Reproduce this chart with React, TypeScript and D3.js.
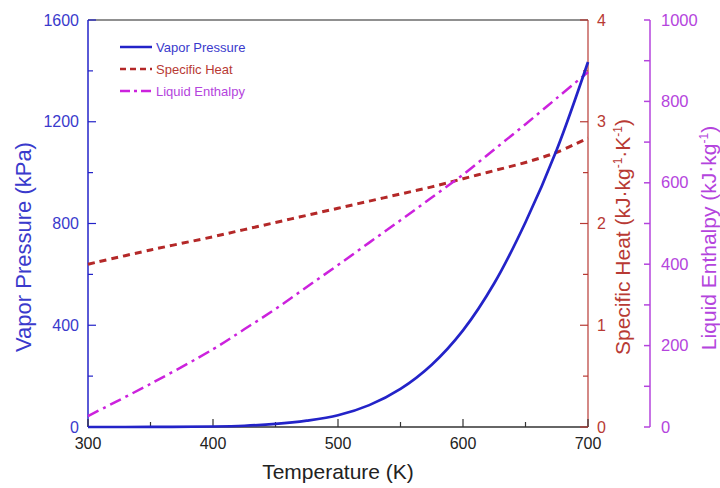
import React from "react";
import * as d3 from "d3";

const temps = [300, 350, 400, 425, 450, 475, 500, 525, 550, 575, 600, 625, 650, 675, 700];
const vaporPressure = [0, 0.3, 2, 5, 12, 25, 46, 86, 150, 245, 380, 565, 805, 1090, 1435];
const specificHeat = [1.6, 1.74, 1.87, 1.94, 2.01, 2.08, 2.15, 2.22, 2.29, 2.36, 2.44, 2.52, 2.6, 2.7, 2.84];
const liquidEnthalpy = [27, 106, 191, 240, 290, 344, 398, 453, 508, 564, 620, 682, 744, 808, 872];

const xTicks = [300, 400, 500, 600, 700];
const pTicks = [0, 400, 800, 1200, 1600];
const cTicks = [0, 1, 2, 3, 4];
const hTicks = [0, 200, 400, 600, 800, 1000];

const BLUE = "#2323c8";
const BLUE_TXT = "#3a3acc";
const RED = "#b42828";
const RED_TXT = "#b83a34";
const MAG = "#cc22dd";
const MAG_TXT = "#b444dd";
const FONT = "'Liberation Sans', Arial, sans-serif";

export default function App() {
  const L = 88, R = 588, T = 20, B = 427, PX = 650;
  const x = d3.scaleLinear().domain([300, 700]).range([L, R]);
  const yP = d3.scaleLinear().domain([0, 1600]).range([B, T]);
  const yC = d3.scaleLinear().domain([0, 4]).range([B, T]);
  const yH = d3.scaleLinear().domain([0, 1000]).range([B, T]);

  const mk = (vals: number[], y: d3.ScaleLinear<number, number>) =>
    d3.line<number>().x((_, i) => x(temps[i])).y((v) => y(v)).curve(d3.curveCatmullRom.alpha(0.5))(vals) || "";

  const xMinor = d3.range(350, 700, 100);
  const pMinor = d3.range(200, 1600, 400);
  const cMinor = d3.range(0.5, 4, 1);
  const hMinor = d3.range(100, 1000, 200);

  const legend = [
    { label: "Vapor Pressure", color: BLUE, txt: BLUE_TXT, dash: "none", w: 2.5 },
    { label: "Specific Heat", color: RED, txt: RED_TXT, dash: "6,4", w: 2.5 },
    { label: "Liquid Enthalpy", color: MAG, txt: MAG_TXT, dash: "10,4,3,4", w: 2.5 },
  ];

  return (
    <svg width={720} height={488} style={{ position: "absolute", left: 0, top: 0, background: "#fff" }} fontFamily={FONT}>
      {/* frame */}
      <line x1={L} x2={R} y1={T} y2={T} stroke="#222" strokeWidth={1.2} />
      <line x1={L} x2={R} y1={B} y2={B} stroke="#333" strokeWidth={1.5} />
      <line x1={L} x2={L} y1={T} y2={B} stroke={BLUE} strokeWidth={1.5} />
      <line x1={R} x2={R} y1={T} y2={B} stroke={RED_TXT} strokeWidth={1.2} />
      <line x1={PX} x2={PX} y1={T} y2={B} stroke={MAG_TXT} strokeWidth={1.5} />

      {/* x ticks */}
      {xTicks.map((t) => (
        <g key={"x" + t}>
          <line x1={x(t)} x2={x(t)} y1={B} y2={B - 8} stroke="#333" strokeWidth={1.2} />
          <text x={x(t)} y={449} textAnchor="middle" fontSize={16} fill="#222">{t}</text>
        </g>
      ))}
      {xMinor.map((t) => (
        <line key={"xm" + t} x1={x(t)} x2={x(t)} y1={B} y2={B - 5} stroke="#333" strokeWidth={1.2} />
      ))}
      <text x={338} y={479} textAnchor="middle" fontSize={21} fill="#222">Temperature (K)</text>

      {/* left axis */}
      {pTicks.map((t) => (
        <g key={"p" + t}>
          <line x1={L} x2={L + 8} y1={yP(t)} y2={yP(t)} stroke={BLUE} strokeWidth={1.2} />
          <text x={79} y={yP(t) + 5.5} textAnchor="end" fontSize={16} fill={BLUE_TXT}>{t}</text>
        </g>
      ))}
      {pMinor.map((t) => (
        <line key={"pm" + t} x1={L} x2={L + 5} y1={yP(t)} y2={yP(t)} stroke={BLUE} strokeWidth={1.2} />
      ))}
      <text transform="translate(31,247) rotate(-90)" textAnchor="middle" fontSize={22} fill={BLUE_TXT}>Vapor Pressure (kPa)</text>

      {/* red axis */}
      {cTicks.map((t) => (
        <g key={"c" + t}>
          <line x1={R} x2={R - 8} y1={yC(t)} y2={yC(t)} stroke={RED_TXT} strokeWidth={1.2} />
          <text x={597} y={yC(t) + 5.5} textAnchor="start" fontSize={16} fill={RED_TXT}>{t}</text>
        </g>
      ))}
      {cMinor.map((t) => (
        <line key={"cm" + t} x1={R} x2={R - 5} y1={yC(t)} y2={yC(t)} stroke={RED_TXT} strokeWidth={1.2} />
      ))}
      <text transform="translate(630,237) rotate(-90)" textAnchor="middle" fontSize={21} fill={RED_TXT}>
        Specific Heat (kJ·kg<tspan fontSize={12} dy={-8}>-1</tspan><tspan dy={8}>·K</tspan><tspan fontSize={12} dy={-8}>-1</tspan><tspan dy={8}>)</tspan>
      </text>

      {/* purple axis */}
      {hTicks.map((t) => (
        <g key={"h" + t}>
          <line x1={PX} x2={PX - 6} y1={yH(t)} y2={yH(t)} stroke={MAG_TXT} strokeWidth={1.5} />
          <text x={661} y={yH(t) + 5.5} textAnchor="start" fontSize={16.5} fill={MAG_TXT}>{t}</text>
        </g>
      ))}
      {hMinor.map((t) => (
        <line key={"hm" + t} x1={PX} x2={PX - 6} y1={yH(t)} y2={yH(t)} stroke={MAG_TXT} strokeWidth={1.5} />
      ))}
      <text transform="translate(716,238) rotate(-90)" textAnchor="middle" fontSize={21} fill={MAG_TXT}>
        Liquid Enthalpy (kJ·kg<tspan fontSize={12} dy={-8}>-1</tspan><tspan dy={8}>)</tspan>
      </text>

      {/* data */}
      <path d={mk(specificHeat, yC)} fill="none" stroke={RED} strokeWidth={3} strokeDasharray="7,5" />
      <path d={mk(liquidEnthalpy, yH)} fill="none" stroke={MAG} strokeWidth={2.5} strokeDasharray="12,5,3,5" />
      <path d={mk(vaporPressure, yP)} fill="none" stroke={BLUE} strokeWidth={2.7} />

      {/* legend */}
      {legend.map((l, i) => (
        <g key={l.label} transform={`translate(0,${47 + i * 22})`}>
          <line x1={120} x2={152} y1={0} y2={0} stroke={l.color} strokeWidth={l.w} strokeDasharray={l.dash} />
          <text x={156} y={4.5} fontSize={13} fill={l.txt}>{l.label}</text>
        </g>
      ))}
    </svg>
  );
}
